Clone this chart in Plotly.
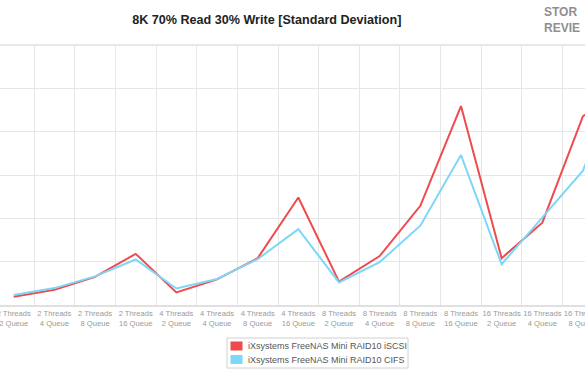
import plotly.graph_objects as go

categories = [
    "2 Threads<br>2 Queue", "2 Threads<br>4 Queue", "2 Threads<br>8 Queue", "2 Threads<br>16 Queue",
    "4 Threads<br>2 Queue", "4 Threads<br>4 Queue", "4 Threads<br>8 Queue", "4 Threads<br>16 Queue",
    "8 Threads<br>2 Queue", "8 Threads<br>4 Queue", "8 Threads<br>8 Queue", "8 Threads<br>16 Queue",
    "16 Threads<br>2 Queue", "16 Threads<br>4 Queue", "16 Threads<br>8 Queue", "16 Threads<br>16 Queue",
]
iscsi = [1.9, 3.5, 6.5, 11.8, 2.9, 5.9, 10.8, 24.8, 5.4, 11.3, 22.9, 45.9, 10.8, 19.0, 43.6, 49.0]
cifs = [2.3, 3.9, 6.6, 10.5, 3.8, 6.0, 10.6, 17.5, 5.2, 9.9, 18.3, 34.6, 9.4, 20.2, 31.0, 56.0]
series_names = ["iXsystems FreeNAS Mini RAID10 iSCSI", "iXsystems FreeNAS Mini RAID10 CIFS"]
colors = ["#ef4a4e", "#7dd7f8"]

W, H = 585, 390
ML, MR, MT, MB = 0, 0, 45, 85
PH = H - MT - MB


def px(x):
    return (x - ML) / (W - ML - MR)


def py(y):
    return (H - MB - y) / PH


fig = go.Figure()
for name, vals, col in zip(series_names, [iscsi, cifs], colors):
    fig.add_trace(go.Scatter(x=categories, y=vals, mode="lines", name=name,
                             line=dict(color=col, width=2), showlegend=False))

shapes = [
    dict(type="line", xref="paper", yref="paper", x0=0, x1=1, y0=1, y1=1,
         line=dict(color="#e8e8e8", width=2)),
    # legend box
    dict(type="rect", xref="paper", yref="paper", x0=px(227), x1=px(408), y0=py(338), y1=py(368),
         line=dict(color="#d0d0d0", width=1), fillcolor="white"),
]
annotations = []
row_y = [346, 359.5]
for name, col, ry in zip(series_names, colors, row_y):
    shapes.append(dict(type="rect", xref="paper", yref="paper", x0=px(230.5), x1=px(242.5),
                       y0=py(ry - 4.5), y1=py(ry + 4.5), line=dict(width=0), fillcolor=col))
    annotations.append(dict(text=name, xref="paper", yref="paper", x=px(246), y=py(ry),
                            xanchor="left", yanchor="middle", showarrow=False,
                            font=dict(size=9, color="#555555")))
annotations.append(dict(text="<b>STOR<br>REVIE</b>", xref="paper", yref="paper",
                        x=px(542), y=py(20), xanchor="left", yanchor="middle", showarrow=False,
                        font=dict(size=12, color="#8f8f8f"), align="left"))

fig.update_layout(
    width=W, height=H,
    margin=dict(l=ML, r=MR, t=MT, b=MB, autoexpand=False),
    paper_bgcolor="white", plot_bgcolor="white",
    font=dict(family="Liberation Sans, Arial, sans-serif"),
    showlegend=False,
    title=dict(text="<b>8K 70% Read 30% Write [Standard Deviation]</b>",
               x=0.456, xanchor="center", y=1 - 20 / H, yanchor="middle",
               font=dict(size=12.6, color="#222222")),
    xaxis=dict(type="category", range=[-0.337, 14.05], tickson="boundaries",
               showgrid=True, gridcolor="#e6e6e6", gridwidth=1,
               showline=True, linecolor="#e0e0e0", linewidth=2,
               ticks="", tickfont=dict(size=7.6, color="#9a9a9a"), tickangle=0),
    yaxis=dict(range=[0, 60], dtick=10, showticklabels=False, showgrid=True,
               gridcolor="#e6e6e6", gridwidth=1, zeroline=False, ticks=""),
    shapes=shapes,
    annotations=annotations,
)

fig.write_html("out.html", config={"displayModeBar": False},
               post_script="document.body.style.margin='0px';")
